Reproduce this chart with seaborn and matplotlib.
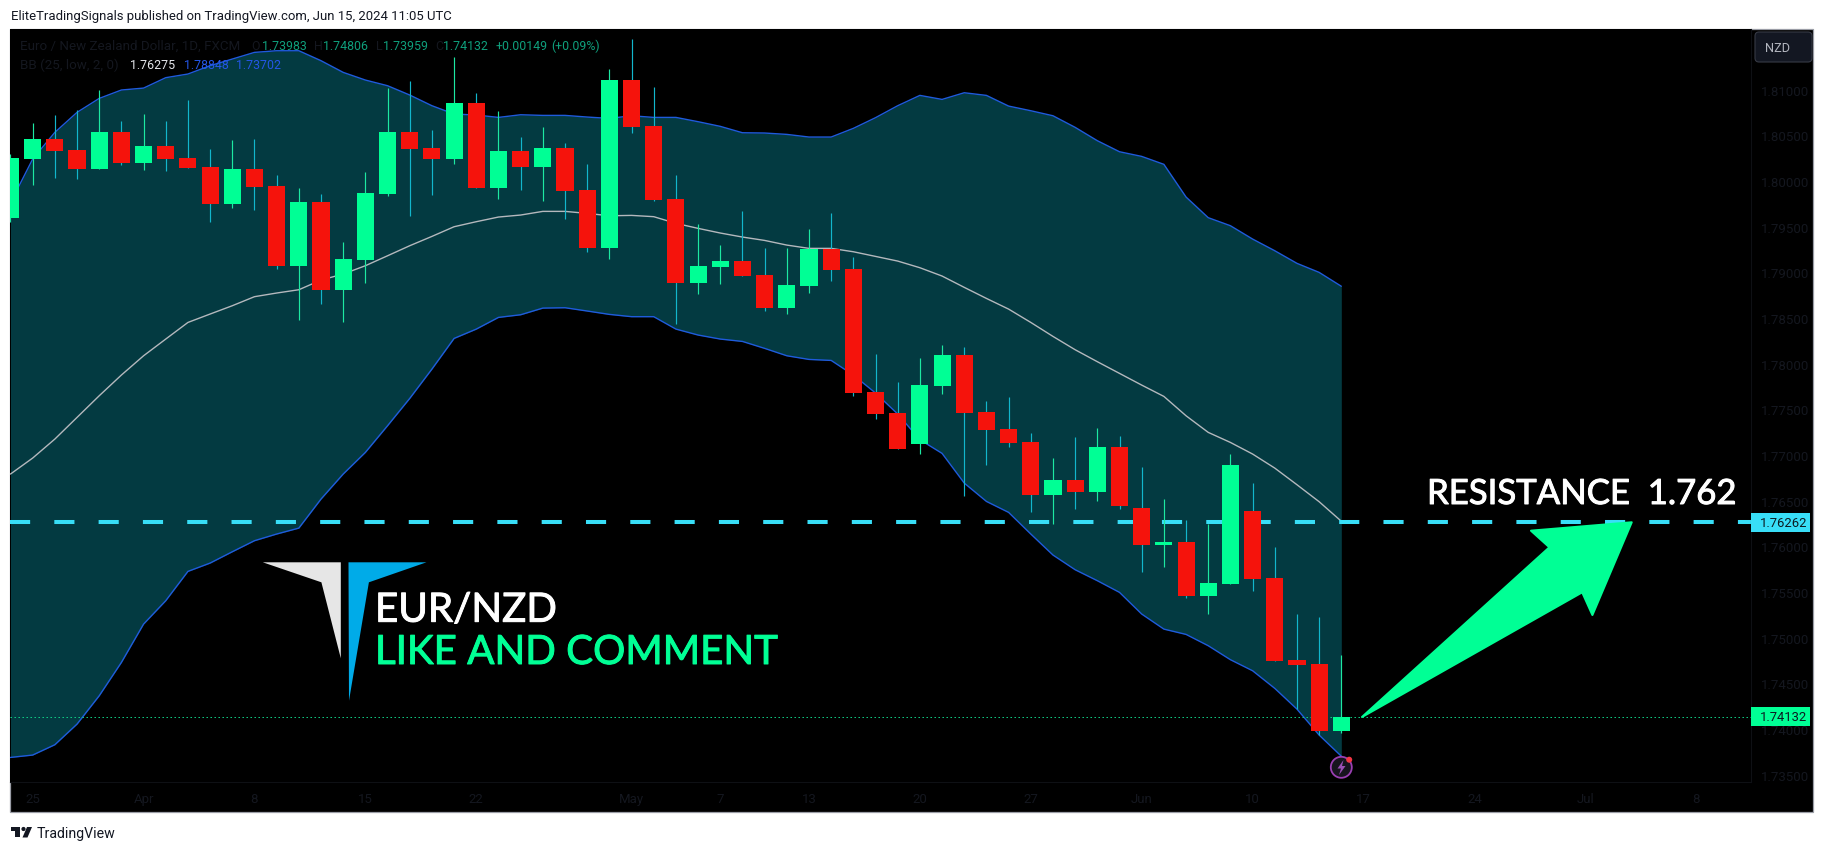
# EUR/NZD daily chart with Bollinger bands, TradingView style
import numpy as np
import pandas as pd
import seaborn as sns
import matplotlib.pyplot as plt
import matplotlib.patheffects as pe
from matplotlib.patches import Polygon, Circle, Rectangle, FancyBboxPatch
from matplotlib.transforms import Affine2D

# candles, one per trading day from Mar 22 to Jun 14 2024
opens = [1.79595, 1.80241, 1.80460, 1.80340, 1.80131, 1.80537, 1.80197, 1.80383, 1.80252, 1.80153,
         1.79748, 1.80131, 1.79945, 1.79069, 1.79770, 1.78807, 1.79135, 1.79858, 1.80537, 1.80361,
         1.80241, 1.80854, 1.79923, 1.80329, 1.80153, 1.80361, 1.79902, 1.79266, 1.81106, 1.80602,
         1.79803, 1.78883, 1.79058, 1.79124, 1.78971, 1.78609, 1.78850, 1.79255, 1.79036, 1.77690,
         1.77460, 1.77120, 1.77755, 1.78095, 1.77471, 1.77284, 1.77142, 1.76562, 1.76726, 1.76595,
         1.77087, 1.76419, 1.76014, 1.76047, 1.75456, 1.75587, 1.76387, 1.75653, 1.74755, 1.74711,
         1.73983]
highs = [1.80300, 1.80635, 1.80723, 1.80778, 1.80997, 1.80657, 1.80734, 1.80657, 1.80887, 1.80350,
         1.80449, 1.80460, 1.80066, 1.79923, 1.79858, 1.79332, 1.80099, 1.81018, 1.81095, 1.80559,
         1.81358, 1.80964, 1.80767, 1.80482, 1.80591, 1.80416, 1.80186, 1.81226, 1.81555, 1.81029,
         1.80066, 1.79529, 1.79299, 1.79672, 1.79266, 1.79266, 1.79474, 1.79650, 1.79168, 1.78106,
         1.77799, 1.78062, 1.78204, 1.78182, 1.77591, 1.77635, 1.77241, 1.76967, 1.77197, 1.77295,
         1.77208, 1.76868, 1.76518, 1.76288, 1.76244, 1.77011, 1.76693, 1.75992, 1.75259, 1.75226,
         1.74806]
lows = [1.79550, 1.79956, 1.80033, 1.80022, 1.80131, 1.80175, 1.80121, 1.80110, 1.80142, 1.79551,
        1.79704, 1.79683, 1.79036, 1.78478, 1.78650, 1.78456, 1.78883, 1.79836, 1.79617, 1.79847,
        1.80186, 1.79923, 1.79803, 1.79902, 1.79781, 1.79584, 1.79223, 1.79146, 1.80526, 1.79781,
        1.78434, 1.78763, 1.78872, 1.78960, 1.78577, 1.78544, 1.78774, 1.78905, 1.77646, 1.77394,
        1.77065, 1.77011, 1.77668, 1.76551, 1.76890, 1.77087, 1.76376, 1.76244, 1.76408, 1.76496,
        1.76408, 1.75719, 1.75773, 1.75434, 1.75259, 1.75587, 1.75511, 1.74744, 1.74218, 1.73934,
        1.73959]
closes = [1.80252, 1.80460, 1.80329, 1.80131, 1.80537, 1.80197, 1.80383, 1.80241, 1.80142, 1.79748,
          1.80131, 1.79934, 1.79069, 1.79770, 1.78807, 1.79146, 1.79869, 1.80537, 1.80350, 1.80241,
          1.80854, 1.79923, 1.80329, 1.80153, 1.80361, 1.79891, 1.79266, 1.81106, 1.80591, 1.79792,
          1.78883, 1.79069, 1.79124, 1.78960, 1.78609, 1.78861, 1.79255, 1.79026, 1.77679, 1.77449,
          1.77065, 1.77766, 1.78095, 1.77460, 1.77274, 1.77131, 1.76562, 1.76726, 1.76595, 1.77087,
          1.76441, 1.76014, 1.76047, 1.75456, 1.75598, 1.76890, 1.75642, 1.74744, 1.74700, 1.73978,
          1.74132]

# Bollinger bands (25, low, 2, 0)
bb_upper = [1.79763, 1.80241, 1.80533, 1.80752, 1.80905, 1.80997, 1.81018, 1.81132, 1.81172, 1.81263,
            1.81336, 1.81409, 1.81427, 1.81427, 1.81318, 1.81190, 1.81106, 1.81044, 1.80942, 1.80825,
            1.80734, 1.80723, 1.80697, 1.80726, 1.80719, 1.80719, 1.80701, 1.80686, 1.80715, 1.80697,
            1.80697, 1.80650, 1.80599, 1.80529, 1.80526, 1.80511, 1.80482, 1.80482, 1.80577, 1.80694,
            1.80825, 1.80938, 1.80894, 1.80967, 1.80938, 1.80821, 1.80770, 1.80715, 1.80588, 1.80442,
            1.80321, 1.80270, 1.80183, 1.79825, 1.79599, 1.79511, 1.79365, 1.79237, 1.79099, 1.79000,
            1.78848]
bb_basis = [1.76792, 1.76967, 1.77175, 1.77412, 1.77649, 1.77876, 1.78087, 1.78270, 1.78452, 1.78544,
            1.78635, 1.78734, 1.78774, 1.78810, 1.78916, 1.78982, 1.79073, 1.79182, 1.79292, 1.79394,
            1.79500, 1.79555, 1.79606, 1.79628, 1.79668, 1.79668, 1.79646, 1.79620, 1.79624, 1.79610,
            1.79537, 1.79482, 1.79431, 1.79387, 1.79350, 1.79299, 1.79263, 1.79263, 1.79226, 1.79175,
            1.79124, 1.79051, 1.78960, 1.78836, 1.78715, 1.78598, 1.78452, 1.78299, 1.78153, 1.78022,
            1.77894, 1.77766, 1.77642, 1.77430, 1.77248, 1.77138, 1.77011, 1.76857, 1.76675, 1.76489,
            1.76275]
bb_lower = [1.73689, 1.73715, 1.73828, 1.74054, 1.74364, 1.74729, 1.75149, 1.75405, 1.75726, 1.75817,
            1.75941, 1.76062, 1.76135, 1.76200, 1.76518, 1.76792, 1.77029, 1.77321, 1.77620, 1.77941,
            1.78277, 1.78379, 1.78507, 1.78536, 1.78609, 1.78613, 1.78577, 1.78540, 1.78515, 1.78515,
            1.78379, 1.78314, 1.78270, 1.78244, 1.78168, 1.78087, 1.78047, 1.78036, 1.77876, 1.77679,
            1.77449, 1.77168, 1.77018, 1.76693, 1.76492, 1.76372, 1.76135, 1.75905, 1.75744, 1.75624,
            1.75496, 1.75259, 1.75094, 1.75036, 1.74912, 1.74759, 1.74638, 1.74445, 1.74218, 1.73934,
            1.73702]

resistance = 1.76262
last_price = 1.74132
y_ticks = [1.735, 1.74, 1.745, 1.75, 1.755, 1.76, 1.765, 1.77, 1.775, 1.78,
           1.785, 1.79, 1.795, 1.80, 1.805, 1.81]
x_ticks = [1, 6, 11, 16, 21, 28, 32, 36, 41, 46, 51, 56, 61, 66, 71, 76]
x_labels = ['25', 'Apr', '8', '15', '22', 'May', '7', '13', '20', '27', 'Jun', '10', '17', '24', 'Jul', '8']

GREEN = '#00ff95'
RED = '#f5130c'
BLUE = '#1f5bdc'
CYAN = '#38def7'
DIM = '#14171f'
FONT = 'Roboto'

sns.set_theme(style='dark', rc={'axes.facecolor': 'black', 'figure.facecolor': 'white'})
plt.rcParams['font.family'] = [FONT, 'DejaVu Sans']

W, H = 1825, 853
fig = plt.figure(figsize=(W / 100, H / 100), dpi=100)
# pixel coordinates of the picture, y going down
px = Affine2D().scale(1 / W, -1 / H).translate(0, 1) + fig.transFigure

fig.add_artist(Rectangle((10, 30), 1803, 783, transform=px, facecolor='black',
                         edgecolor='#9a9da6', linewidth=0.9, zorder=-1))

ax = fig.add_axes([10 / W, 1 - 783 / H, 1741 / W, 753 / H], zorder=1)
ax.set_facecolor('black')

df = pd.DataFrame({'bar': np.arange(len(opens)), 'open': opens, 'high': highs, 'low': lows,
                   'close': closes, 'upper': bb_upper, 'basis': bb_basis, 'lower': bb_lower})

# band and its three lines
ax.fill_between(df['bar'], df['lower'], df['upper'], color='#033a41', linewidth=0, zorder=1)
sns.lineplot(data=df, x='bar', y='upper', color=BLUE, linewidth=1.0, ax=ax, zorder=2)
sns.lineplot(data=df, x='bar', y='lower', color=BLUE, linewidth=1.0, ax=ax, zorder=2)
sns.lineplot(data=df, x='bar', y='basis', color='#b4b8bd', linewidth=1.0, ax=ax, zorder=2)

ax.axhline(last_price, color='#10d98a', linewidth=0.72, linestyle=(0, (1.4, 2.6)), zorder=2)
ax.axhline(resistance, color=CYAN, linewidth=2.9, linestyle=(0, (5, 6)),
           dash_capstyle='butt', zorder=2.5)

# candles
up = df['close'] >= df['open']
body_bottom = df[['open', 'close']].min(axis=1)
body_height = (df['close'] - df['open']).abs()
ax.vlines(df['bar'][up], df['low'][up], df['high'][up], color='#1de8a2', linewidth=0.85, zorder=3)
ax.vlines(df['bar'][~up], df['low'][~up], df['high'][~up], color='#12b6cc', linewidth=0.85, zorder=3)
ax.bar(df['bar'][up], body_height[up], bottom=body_bottom[up], width=0.77, color=GREEN, linewidth=0, zorder=3.1)
ax.bar(df['bar'][~up], body_height[~up], bottom=body_bottom[~up], width=0.77, color=RED, linewidth=0, zorder=3.1)

ax.set_xlim(-0.022, 78.47)
ax.set_ylim(1.73420, 1.81665)
ax.set_xlabel('')
ax.set_ylabel('')
ax.grid(False)
ax.set_xticks(x_ticks)
ax.set_xticklabels(x_labels)
ax.yaxis.tick_right()
ax.set_yticks(y_ticks)
ax.set_yticklabels([f'{v:.5f}' for v in y_ticks])
ax.tick_params(axis='x', length=0, pad=7, labelsize=9.5, labelcolor=DIM)
ax.tick_params(axis='y', length=0, pad=7, labelsize=9.5, labelcolor=DIM)
for side in ['left', 'top']:
    ax.spines[side].set_visible(False)
for side in ['right', 'bottom']:
    ax.spines[side].set_color('#0e1014')
    ax.spines[side].set_linewidth(0.8)


def put(x, y, s, color, size, **kw):
    kw.setdefault('family', [FONT, 'DejaVu Sans'])
    kw.setdefault('va', 'center')
    return fig.text(x, y, s, color=color, fontsize=size, transform=px, zorder=6, **kw)


# header and footer
put(11, 16.5, 'EliteTradingSignals published on TradingView.com, Jun 15, 2024 11:05 UTC', '#131722', 9.45)
put(36.5, 834, 'TradingView', '#131722', 10.2)
fig.add_artist(Polygon([(11, 828), (20.5, 828), (20.5, 838.5), (15.5, 838.5), (15.5, 832), (11, 832)],
                       transform=px, facecolor='#131722', linewidth=0, zorder=6))
fig.add_artist(Circle((23.5, 830), 2.1, transform=px, facecolor='#131722', linewidth=0, zorder=6))
fig.add_artist(Polygon([(27, 828), (32, 828), (27.5, 838.5), (22.5, 838.5)],
                       transform=px, facecolor='#131722', linewidth=0, zorder=6))

# legend rows on top of the chart
VAL = '#0f9f7c'
put(20.5, 46.5, 'Euro / New Zealand Dollar, 1D, FXCM', DIM, 9.6)
row1 = [(251.5, 'O', DIM), (262, '1.73983', VAL), (314, 'H', DIM), (323.5, '1.74806', VAL),
        (375.6, 'L', DIM), (382.8, '1.73959', VAL), (435.7, 'C', DIM), (442.9, '1.74132', VAL),
        (495.5, '+0.00149', VAL), (551.6, '(+0.09%)', VAL)]
for x, s, c in row1:
    put(x, 46.5, s, c, 8.9)
put(20.5, 65.5, 'BB (25, low, 2, 0)', DIM, 9.6)
row2 = [(130.5, '1.76275', '#e4e6ea'), (183.9, '1.78848', '#2456e6'), (236.5, '1.73702', '#2456e6')]
for x, s, c in row2:
    put(x, 65.5, s, c, 8.9)

# currency button and price tags
fig.add_artist(FancyBboxPatch((1758, 36), 51, 24, boxstyle='round,pad=3,rounding_size=4', transform=px,
                              facecolor='#131722', edgecolor='#363a45', linewidth=0.8, zorder=6))
put(1765, 48.5, 'NZD', '#b2b5be', 9.2)
for value, y, color in [(resistance, 523.5, CYAN), (last_price, 717.5, GREEN)]:
    fig.add_artist(Rectangle((1751, y - 9.5), 59, 19, transform=px, facecolor=color, linewidth=0, zorder=6))
    put(1760, y + 0.5, f'{value:.5f}', '#0c1a20', 9.4)

# logo and captions
fig.add_artist(Polygon([(262.8, 563.3), (340.8, 563.3), (340.8, 659.3), (321.4, 583.3)], transform=px,
                       facecolor='#e6e6e6', linewidth=0, zorder=5))
fig.add_artist(Polygon([(348.5, 563.3), (426.5, 563.3), (368.9, 583.3), (349, 701.7)], transform=px,
                       facecolor='#00abe8', linewidth=0, zorder=5))
for x, y, s, color, size in [(375, 622.7, 'EUR/NZD', 'white', 29),
                             (375, 665, 'LIKE AND COMMENT', GREEN, 29),
                             (1427, 505, 'RESISTANCE  1.762', 'white', 25)]:
    t = put(x, y, s, color, size, va='baseline', family='Lato')
    t.set_path_effects([pe.withStroke(linewidth=0.7, foreground=color)])

# big arrow up to the resistance line
fig.add_artist(Polygon([(1362, 718), (1549.4, 548.3), (1531, 531.7), (1631.7, 523.3), (1592.4, 616), (1582.2, 593.3)],
                       transform=px, facecolor=GREEN, edgecolor=GREEN, linewidth=1.5, joinstyle='round', zorder=5))

# alert icon below the last candle
fig.add_artist(Circle((1341.3, 768.3), 10.5, transform=px, facecolor='#17141f', edgecolor='#9a3fb2',
                      linewidth=1.3, zorder=5))
fig.add_artist(Polygon([(1343.5, 761), (1337.5, 769.5), (1341, 769.5), (1339, 776), (1345.5, 767), (1342, 767)],
                       transform=px, facecolor='#9a4fb5', linewidth=0, zorder=6))
fig.add_artist(Circle((1349.2, 760.7), 3, transform=px, facecolor='#f23645', linewidth=0, zorder=7))

fig.savefig('out.png', dpi=100)
